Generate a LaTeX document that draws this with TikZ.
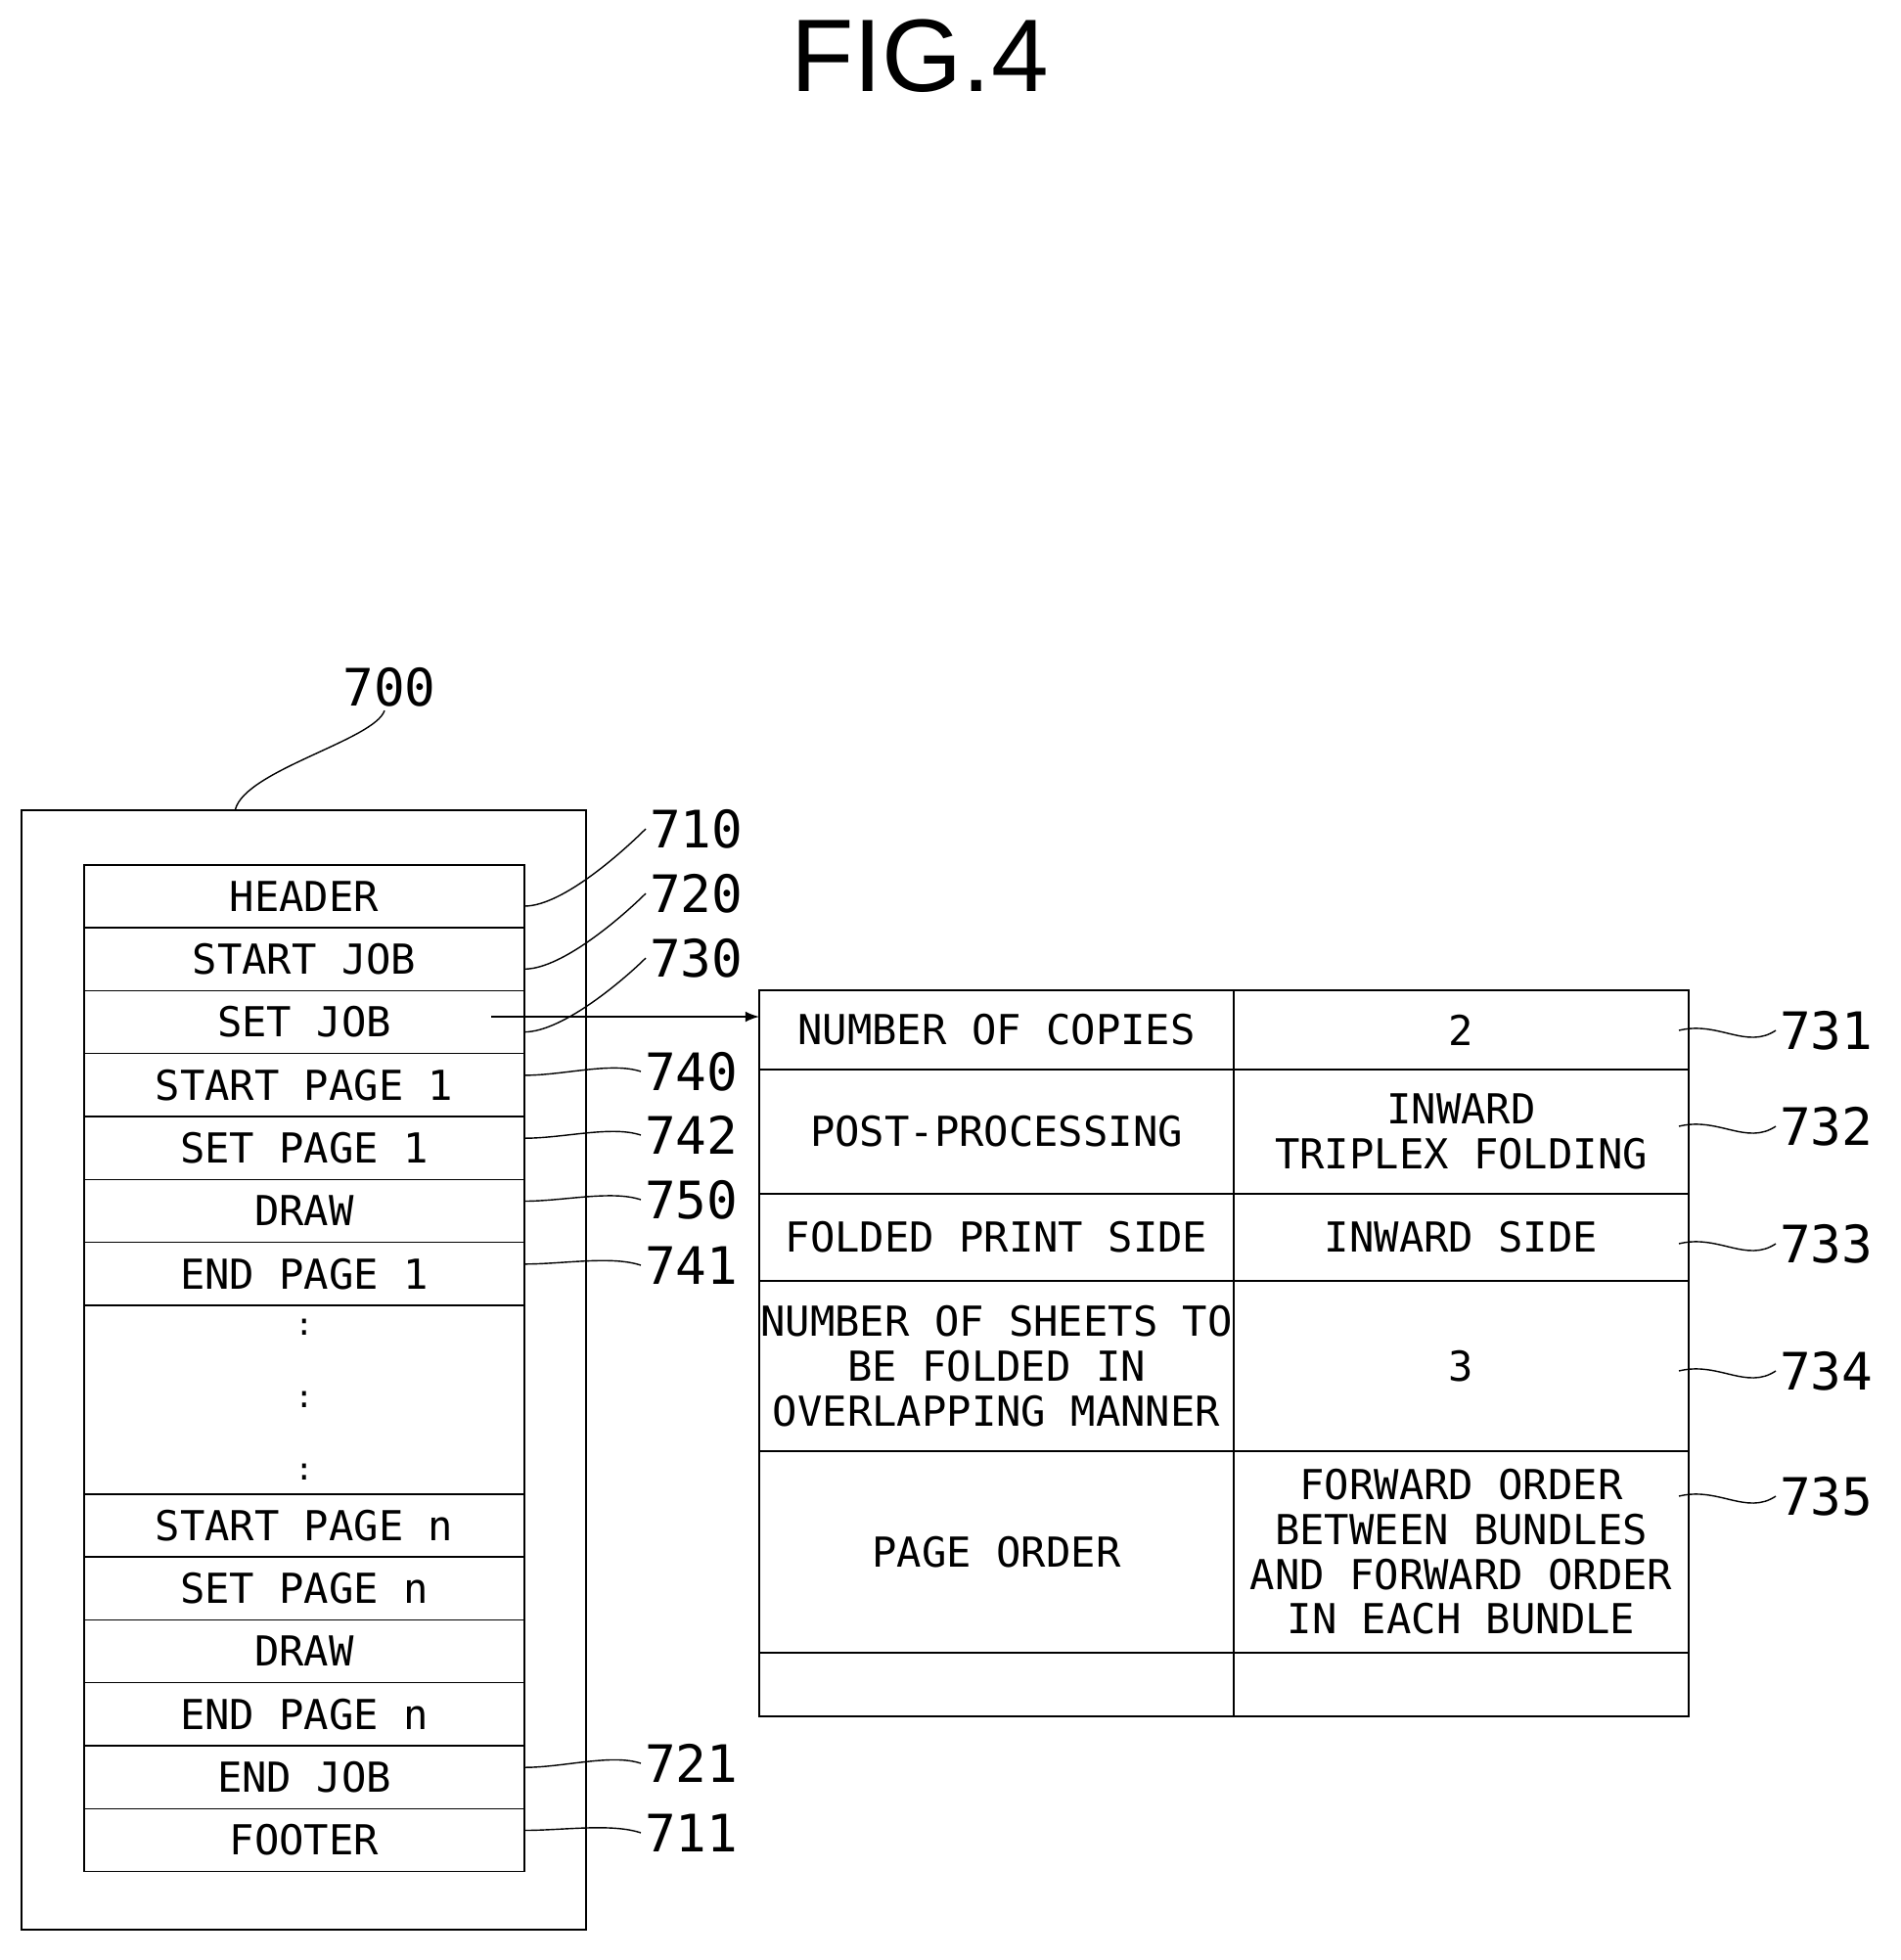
\documentclass[tikz,border=0pt]{standalone}
\usepackage{fontspec}
\setmainfont{DejaVu Sans Mono}
\newfontfamily\figfont{Liberation Sans}
\usetikzlibrary{positioning}

\begin{document}
\begin{tikzpicture}[
    row/.style={
        draw,
        rectangle,
        minimum width=4.5cm,
        minimum height=6.43mm,
        inner sep=0pt,
        outer sep=0pt,
        font=\fontsize{12}{13}\selectfont
    },
    cell/.style={
        draw,
        rectangle,
        inner sep=0pt,
        outer sep=0pt,
        align=center,
        font=\fontsize{12}{13}\selectfont
    },
    ref/.style={
        font=\fontsize{15}{16}\selectfont,
        anchor=west,
        inner sep=1pt
    },
    leader/.style={
        thin
    },
    flow/.style={
        ->,
        >=latex,
        thin
    }
]
    \useasboundingbox (0,0) rectangle (19.42,-20.03);

    % Title
    \node[font=\figfont\fontsize{30}{32}\selectfont] (title) at (9.4,-0.57) {FIG.4};

    % Print job container
    \node[draw, rectangle, minimum width=5.77cm, minimum height=11.44cm,
          inner sep=0pt] (job) at (3.105,-14.0) {};

    % Job command rows
    \node[row] (hdr) at (3.11,-9.16) {HEADER};
    \node[row, below=0 of hdr] (sjob) {START JOB};
    \node[row, below=0 of sjob] (setjob) {SET JOB};
    \node[row, below=0 of setjob] (spage) {START PAGE 1};
    \node[row, below=0 of spage] (setpage) {SET PAGE 1};
    \node[row, below=0 of setpage] (draw) {DRAW};
    \node[row, below=0 of draw] (epage) {END PAGE 1};
    \node[row, below=0 of epage, minimum height=19.29mm, align=center,
          font=\fontsize{9}{21}\selectfont] (dots) {:\\:\\:};
    \node[row, below=0 of dots] (spagen) {START PAGE n};
    \node[row, below=0 of spagen] (setpagen) {SET PAGE n};
    \node[row, below=0 of setpagen] (drawn) {DRAW};
    \node[row, below=0 of drawn] (epagen) {END PAGE n};
    \node[row, below=0 of epagen] (ejob) {END JOB};
    \node[row, below=0 of ejob] (ftr) {FOOTER};

    % Job setting table
    \node[cell, minimum width=4.85cm, minimum height=8.1mm] (copies) at (10.185,-10.525) {NUMBER OF COPIES};
    \node[cell, minimum width=4.65cm, minimum height=8.1mm, right=0 of copies] (copiesv) {2};
    \node[cell, minimum width=4.85cm, minimum height=12.7mm, below=0 of copies] (post) {POST-PROCESSING};
    \node[cell, minimum width=4.65cm, minimum height=12.7mm, right=0 of post] (postv) {INWARD\\TRIPLEX FOLDING};
    \node[cell, minimum width=4.85cm, minimum height=8.9mm, below=0 of post] (side) {FOLDED PRINT SIDE};
    \node[cell, minimum width=4.65cm, minimum height=8.9mm, right=0 of side] (sidev) {INWARD SIDE};
    \node[cell, minimum width=4.85cm, minimum height=17.4mm, below=0 of side] (sheets) {NUMBER OF SHEETS TO\\BE FOLDED IN\\OVERLAPPING MANNER};
    \node[cell, minimum width=4.65cm, minimum height=17.4mm, right=0 of sheets] (sheetsv) {3};
    \node[cell, minimum width=4.85cm, minimum height=20.6mm, below=0 of sheets] (order) {PAGE ORDER};
    \node[cell, minimum width=4.65cm, minimum height=20.6mm, right=0 of order] (orderv) {FORWARD ORDER\\BETWEEN BUNDLES\\AND FORWARD ORDER\\IN EACH BUNDLE};
    \node[cell, minimum width=4.85cm, minimum height=6.5mm, below=0 of order] (blank) {};
    \node[cell, minimum width=4.65cm, minimum height=6.5mm, right=0 of blank] (blankv) {};

    % SET JOB expands into the table
    \coordinate (setsrc) at (5.02,-10.39);
    \draw[flow] (setsrc) -- (setsrc -| copies.west);

    % Reference numerals
    \node[ref, anchor=center] (n700) at (3.98,-7.02) {700};
    \node[ref] (n710) at (6.60,-8.47) {710};
    \node[ref] (n720) at (6.60,-9.13) {720};
    \node[ref] (n730) at (6.60,-9.79) {730};
    \node[ref] (n740) at (6.55,-10.95) {740};
    \node[ref] (n742) at (6.55,-11.60) {742};
    \node[ref] (n750) at (6.55,-12.26) {750};
    \node[ref] (n741) at (6.55,-12.93) {741};
    \node[ref] (n721) at (6.55,-18.02) {721};
    \node[ref] (n711) at (6.55,-18.73) {711};
    \node[ref] (n731) at (18.15,-10.53) {731};
    \node[ref] (n732) at (18.15,-11.51) {732};
    \node[ref] (n733) at (18.15,-12.71) {733};
    \node[ref] (n734) at (18.15,-14.01) {734};
    \node[ref] (n735) at (18.15,-15.29) {735};

    % Leader lines
    \draw[leader] ([xshift=-0.7cm]job.north) .. controls +(0.1,0.4) and +(-0.1,-0.3) .. ([xshift=-0.05cm]n700.south);
    \draw[leader] ([yshift=-1mm]hdr.east) .. controls +(0.4,0) and +(-0.2,-0.2) .. (n710.west);
    \draw[leader] ([yshift=-1mm]sjob.east) .. controls +(0.4,0) and +(-0.2,-0.2) .. (n720.west);
    \draw[leader] ([yshift=-1mm]setjob.east) .. controls +(0.4,0) and +(-0.2,-0.2) .. (n730.west);
    \foreach \r/\n in {spage/n740, setpage/n742, draw/n750, epage/n741, ejob/n721, ftr/n711}
        \draw[leader] ([yshift=1mm]\r.east) .. controls +(0.4,0) and +(-0.3,0.1) .. (\n.west);
    \foreach \c/\n in {copiesv/n731, postv/n732, sidev/n733, sheetsv/n734, orderv/n735}
        \draw[leader] ([xshift=-1mm,yshift=0mm]\c.east |- \n.west) .. controls +(0.4,0.1) and +(-0.3,-0.2) .. (\n.west);

\end{tikzpicture}
\end{document}
